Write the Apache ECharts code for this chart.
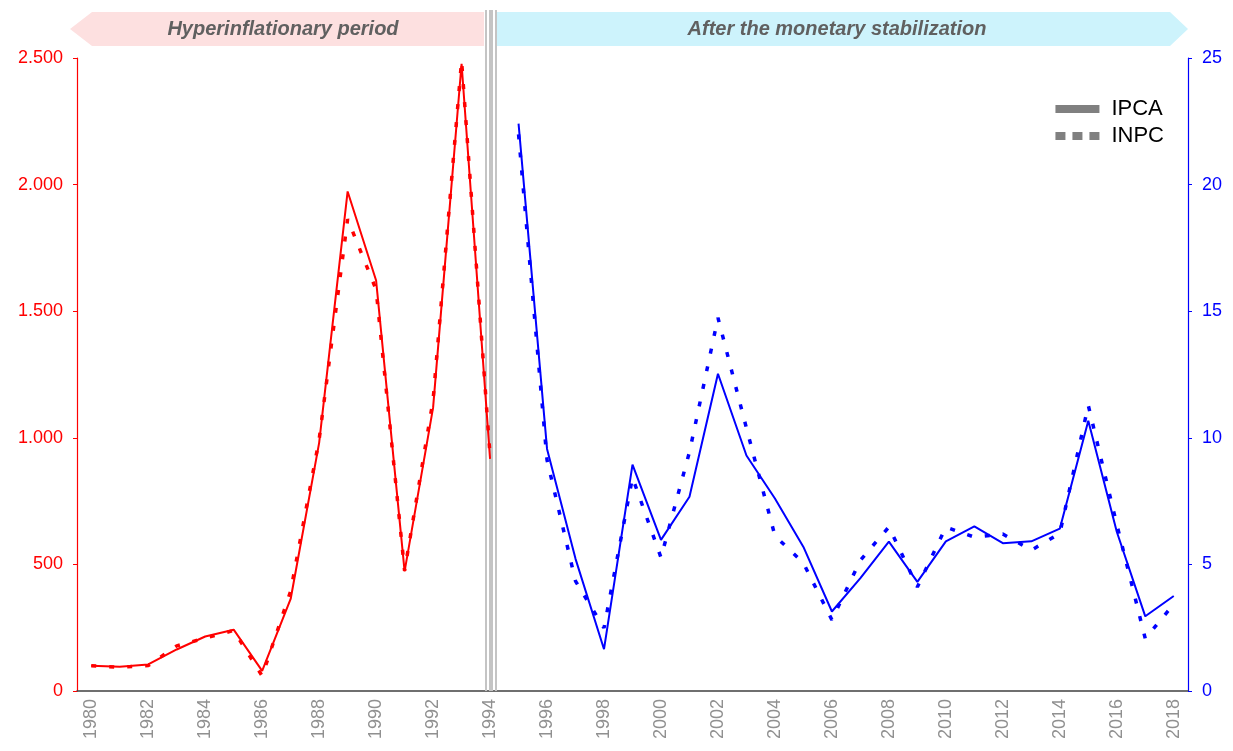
<!DOCTYPE html>
<html>
<head>
<meta charset="utf-8">
<script src="https://cdn.jsdelivr.net/npm/echarts@6/dist/echarts.min.js"></script>
<style>
  html, body { margin: 0; padding: 0; background: #fff; }
  #chart { width: 1233px; height: 751px; }
</style>
</head>
<body>
<div id="chart"></div>
<script>
// years on the x axis
const years = [];
for (let y = 1980; y <= 2018; y++) years.push(String(y));

// hyperinflation period, % per year (left axis)
const ipcaHyper = [99.3, 95.6, 104.8, 164.0, 215.3, 242.2, 79.7, 363.4, 980.2, 1972.9, 1621.0, 472.7, 1119.1, 2477.2, 916.5];
const inpcHyper = [99.7, 93.5, 100.3, 178.0, 209.1, 239.1, 59.2, 394.6, 993.3, 1863.6, 1585.2, 475.1, 1149.1, 2489.1, 929.3];

// after stabilization, % per year (right axis)
const ipcaStable = [22.41, 9.56, 5.22, 1.65, 8.94, 5.97, 7.67, 12.53, 9.30, 7.60, 5.69, 3.14, 4.46, 5.90, 4.31, 5.91, 6.50, 5.84, 5.91, 6.41, 10.67, 6.29, 2.95, 3.75];
const inpcStable = [21.98, 9.12, 4.34, 2.49, 8.43, 5.27, 9.44, 14.74, 10.38, 6.13, 5.05, 2.81, 5.16, 6.48, 4.11, 6.47, 6.08, 6.20, 5.56, 6.23, 11.28, 6.58, 2.07, 3.43];

const leftTicks = [0, 500, 1000, 1500, 2000, 2500];
const rightTicks = [0, 5, 10, 15, 20, 25];

const nHyper = ipcaHyper.length;
const pad = (arr, before, after) =>
  Array(before).fill(null).concat(arr, Array(after).fill(null));

const redIpca = pad(ipcaHyper, 0, years.length - nHyper);
const redInpc = pad(inpcHyper, 0, years.length - nHyper);
const blueIpca = pad(ipcaStable, nHyper, 0);
const blueInpc = pad(inpcStable, nHyper, 0);

const font = '"Liberation Sans", Arial, sans-serif';
const dash = [5, 13];

const chart = echarts.init(document.getElementById('chart'));
chart.setOption({
  animation: false,
  textStyle: { fontFamily: font },
  grid: { left: 77, right: 45, top: 58, bottom: 60, containLabel: false },
  legend: {
    orient: 'vertical',
    right: 64,
    top: 93,
    itemWidth: 44,
    itemHeight: 8,
    itemGap: 5,
    textStyle: { fontSize: 22, color: '#000', fontFamily: font, padding: [0, 0, 0, 7] },
    data: [
      { name: 'IPCA', icon: 'rect', itemStyle: { color: '#808080' } },
      { name: 'INPC', icon: 'path://M0,0h10v8h-10zM17,0h10v8h-10zM34,0h10v8h-10z', itemStyle: { color: '#808080' } }
    ]
  },
  xAxis: {
    type: 'category',
    data: years,
    boundaryGap: true,
    axisLine: { lineStyle: { color: '#404040', width: 1.5 } },
    axisTick: { interval: 0, length: 5, lineStyle: { color: '#404040' } },
    axisLabel: { interval: 1, rotate: 90, fontSize: 18, color: '#909090', margin: 8 },
    splitLine: { show: false }
  },
  yAxis: [
    {
      type: 'value', min: 0, max: leftTicks[leftTicks.length - 1], interval: 500,
      axisLine: { show: true, onZero: false, lineStyle: { color: '#ff0000', width: 1.2 } },
      axisTick: { show: true, length: 4, lineStyle: { color: '#ff0000' } },
      axisLabel: {
        fontSize: 18, color: '#ff0000', margin: 14,
        formatter: v => String(v).replace(/\B(?=(\d{3})+(?!\d))/g, '.')
      },
      splitLine: { show: false }
    },
    {
      type: 'value', min: 0, max: rightTicks[rightTicks.length - 1], interval: 5,
      position: 'right',
      axisLine: { show: true, onZero: false, lineStyle: { color: '#0000ff', width: 1.2 } },
      axisTick: { show: true, length: 4, lineStyle: { color: '#0000ff' } },
      axisLabel: { fontSize: 18, color: '#0000ff', margin: 14 },
      splitLine: { show: false }
    }
  ],
  series: [
    { name: 'IPCA', type: 'line', yAxisIndex: 0, data: redIpca, symbol: 'none',
      color: '#ff0000', lineStyle: { color: '#ff0000', width: 2 }, z: 3 },
    { name: 'INPC', type: 'line', yAxisIndex: 0, data: redInpc, symbol: 'none',
      color: '#ff0000', lineStyle: { color: '#ff0000', width: 3.5, type: dash, cap: 'butt' }, z: 2 },
    { name: 'IPCA', type: 'line', yAxisIndex: 1, data: blueIpca, symbol: 'none',
      color: '#0000ff', lineStyle: { color: '#0000ff', width: 2 }, z: 3 },
    { name: 'INPC', type: 'line', yAxisIndex: 1, data: blueInpc, symbol: 'none',
      color: '#0000ff', lineStyle: { color: '#0000ff', width: 3.5, type: dash, cap: 'butt' }, z: 2 }
  ],
  graphic: [
    { type: 'polygon', shape: { points: [[70, 29], [92, 12], [484, 12], [484, 46], [92, 46]] },
      style: { fill: '#fde0e0' }, z: 0 },
    { type: 'polygon', shape: { points: [[497, 12], [1170, 12], [1188, 29], [1170, 46], [497, 46]] },
      style: { fill: '#cdf3fc' }, z: 0 },
    { type: 'text', x: 283, y: 29, z: 1,
      style: { text: 'Hyperinflationary period', fill: '#606060', font: 'italic bold 20px ' + font, align: 'center', verticalAlign: 'middle' } },
    { type: 'text', x: 837, y: 29, z: 1,
      style: { text: 'After the monetary stabilization', fill: '#606060', font: 'italic bold 20px ' + font, align: 'center', verticalAlign: 'middle' } },
    { type: 'rect', shape: { x: 485, y: 10, width: 2, height: 681 }, style: { fill: '#c4c4c4' }, z: 1 },
    { type: 'rect', shape: { x: 489, y: 10, width: 4, height: 681 }, style: { fill: '#c4c4c4' }, z: 1 },
    { type: 'rect', shape: { x: 495, y: 10, width: 2, height: 681 }, style: { fill: '#c4c4c4' }, z: 1 }
  ]
});
</script>
</body>
</html>
